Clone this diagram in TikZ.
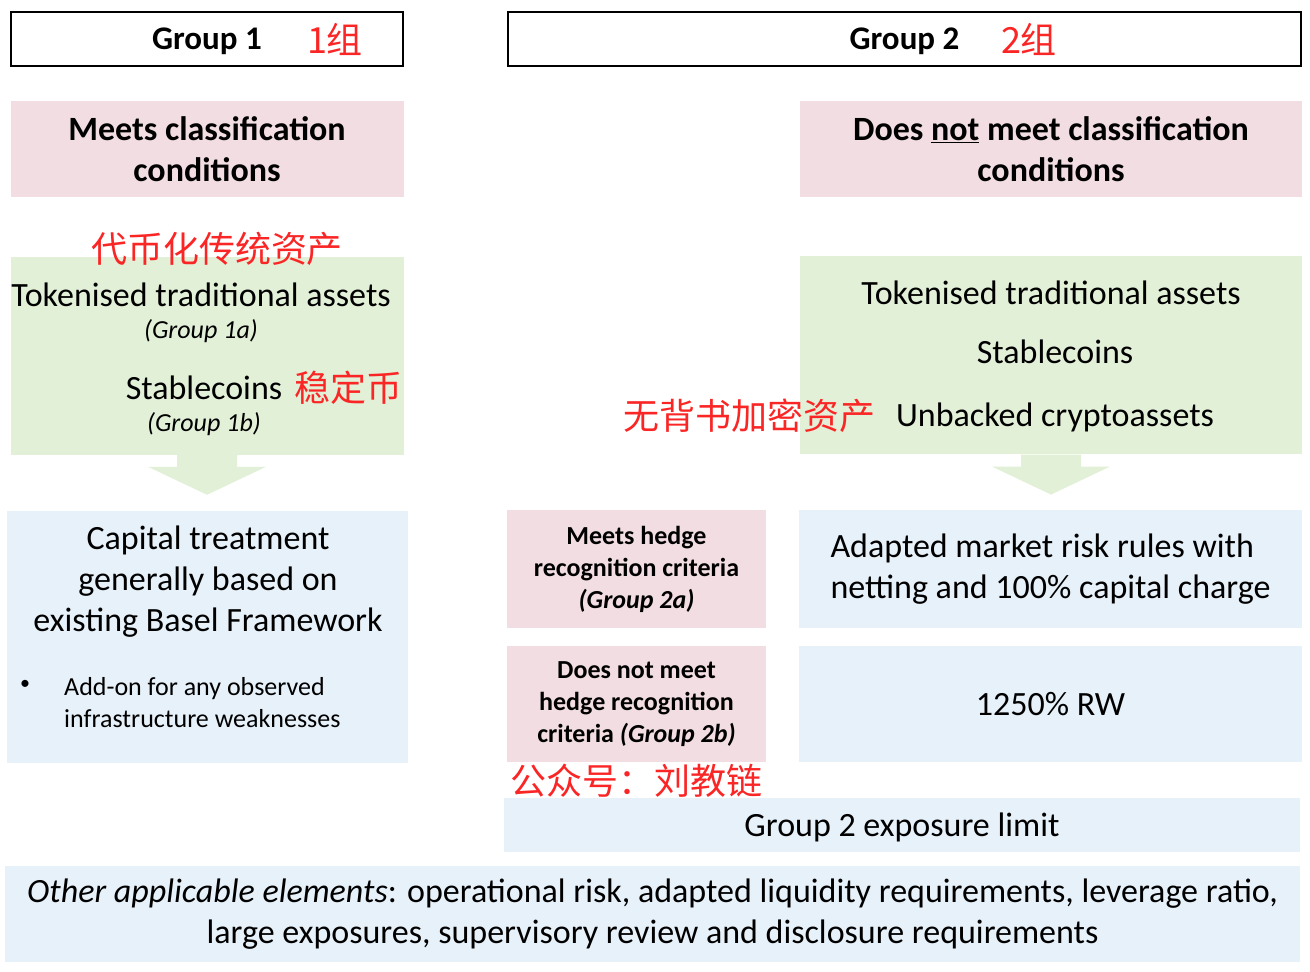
\documentclass[tikz,border=0pt]{standalone}
\usepackage{fontspec}
\setmainfont{Carlito}
\newfontfamily\cjk{Noto Sans CJK SC}
\usepackage{tikz}
\usetikzlibrary{positioning}
\definecolor{condpink}{RGB}{242,222,226}
\definecolor{tokgreen}{RGB}{227,240,216}
\definecolor{treatblue}{RGB}{231,241,249}
\definecolor{redtxt}{RGB}{250,38,38}

\begin{document}
\begin{tikzpicture}[
  x=1pt, y=-1pt,
  every node/.style={inner sep=0pt, font=\fontsize{34}{41}\selectfont},
  header/.style={rectangle, draw, line width=2pt, minimum height=54pt, text depth=0pt,
    font=\bfseries\fontsize{33}{40}\selectfont},
  cond/.style={rectangle, fill=condpink, minimum height=96pt, align=center,
    font=\bfseries\fontsize{34}{41}\selectfont},
  tokbox/.style={rectangle, fill=tokgreen, minimum height=198pt},
  treat/.style={rectangle, fill=treatblue, align=center},
  hedge/.style={rectangle, fill=condpink, minimum width=259pt, align=center,
    font=\bfseries\fontsize{26}{32}\selectfont},
  grp/.style={font=\itshape\fontsize{26}{30}\selectfont},
  zh/.style={text=redtxt, font=\cjk\fontsize{36}{40}\selectfont}
]
  \useasboundingbox (0,0) rectangle (1310,972);

  \node[header, minimum width=392pt] (g1) at (207,39) {Group 1};
  \node[header, minimum width=793pt] (g2) at (904.5,39) {Group 2};
  \node[zh] (zhg1) at (335,39) {1组};
  \node[zh] (zhg2) at (1029,39) {2组};

  \node[cond, minimum width=393pt, below=34pt of g1] (cond1)
        {Meets classification\\conditions};
  \node[cond, minimum width=502pt] (cond2) at (1051,149)
        {Does \underline{not} meet classification\\conditions};

  \node[tokbox, minimum width=393pt, below=59pt of cond1] (tok1) {};
  \node[tokbox, minimum width=502pt, below=59pt of cond2] (tok2) {};
  \foreach \b in {tok1,tok2}
    \fill[tokgreen] (\b.south) ++(-30,0) -- ++(0,12) -- ++(-29,0) -- ++(59,28)
      -- ++(59,-28) -- ++(-29,0) -- ++(0,-12) -- cycle;

  \node (tok1a) at (201,295) {Tokenised traditional assets};
  \node[grp] (tok1ag) at (201,331) {(Group 1a)};
  \node (tok1b) at (204,388) {Stablecoins};
  \node[grp] (tok1bg) at (204,424) {(Group 1b)};
  \node[zh] (zhtok) at (217,249) {代币化传统资产};
  \node[zh] (zhstable) at (348,388) {稳定币};

  \node (tok2a) at (1051,293) {Tokenised traditional assets};
  \node (tok2b) at (1055,352) {Stablecoins};
  \node (tok2c) at (1055,417) {Unbacked cryptoassets};
  \node[zh] (zhunbacked) at (749,416) {无背书加密资产};

  \node[treat, minimum width=401pt, minimum height=252pt, below=56pt of tok1] (cap1) {};
  \node[align=center] (cap1t) at (208,582)
        {Capital treatment\\generally based on\\existing Basel Framework};
  \node[font=\fontsize{20}{24}\selectfont] (bullet) at (25,685) {•};
  \node[anchor=west, align=left, font=\fontsize{26}{32}\selectfont] (addon) at (64,703)
        {Add-on for any observed\\infrastructure weaknesses};

  \node[hedge, minimum height=118pt] (hedgeA) at (636.5,569)
        {Meets hedge\\recognition criteria\\\textit{(Group 2a)}};
  \node[hedge, minimum height=116pt, below=18pt of hedgeA] (hedgeB)
        {Does not meet\\hedge recognition\\criteria \textit{(Group 2b)}};
  \node[treat, minimum width=503pt, minimum height=118pt, align=left] (mkt) at (1050.5,569)
        {Adapted market risk rules with\\netting and 100\% capital charge};
  \node[treat, minimum width=503pt, minimum height=116pt, below=18pt of mkt] (rw)
        {1250\% RW};
  \node[zh] (zhwechat) at (636,781) {公众号：刘教链};

  \node[treat, minimum width=796pt, minimum height=54pt, text depth=0pt] (limit) at (902,825)
        {Group 2 exposure limit};
  \node[treat, minimum width=1295pt, minimum height=96pt] (other) at (652.5,914)
        {\textit{Other applicable elements}: operational risk, adapted liquidity requirements, leverage ratio,\\
         large exposures, supervisory review and disclosure requirements};
\end{tikzpicture}
\end{document}
